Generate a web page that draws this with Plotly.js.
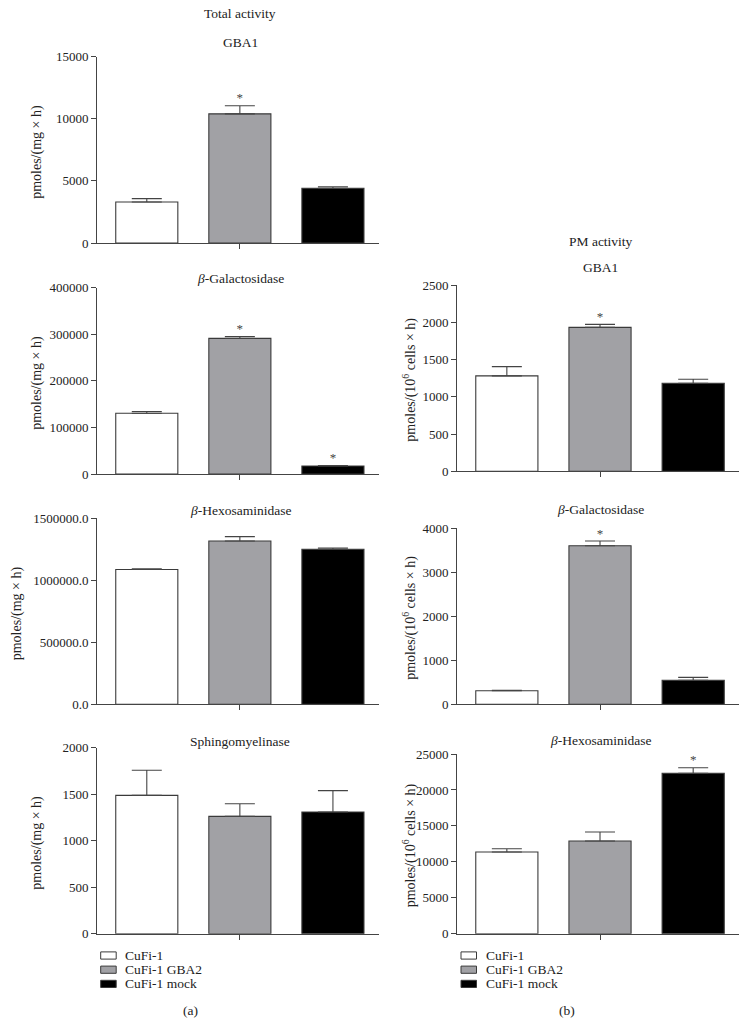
<!DOCTYPE html>
<html>
<head>
<meta charset="utf-8">
<script src="https://cdn.plot.ly/plotly-3.0.1.min.js"></script>
<style>html,body{margin:0;padding:0;background:#fff;}#chart{width:748px;height:1036px;}</style>
</head>
<body>
<div id="chart"></div>
<script>
// ---- data ----
var categories = ['CuFi-1', 'CuFi-1 GBA2', 'CuFi-1 mock'];

// (a) Total activity, pmoles/(mg x h)
var totGBA1 = [3300, 10400, 4400];
var totGBA1Err = [270, 650, 130];
var totGBA1Sig = [false, true, false];

var totGal = [130300, 291300, 17200];
var totGalErr = [4000, 4000, 1200];
var totGalSig = [false, true, true];

var totHex = [1087000, 1317000, 1250000];
var totHexErr = [5000, 35000, 10000];
var totHexSig = [false, false, false];

var totSph = [1487, 1262, 1308];
var totSphErr = [270, 136, 230];
var totSphSig = [false, false, false];

// (b) PM activity, pmoles/(10^6 cells x h)
var pmGBA1 = [1280, 1932, 1181];
var pmGBA1Err = [125, 40, 54];
var pmGBA1Sig = [false, true, false];

var pmGal = [309, 3605, 545];
var pmGalErr = [10, 105, 68];
var pmGalSig = [false, true, false];

var pmHex = [11360, 12890, 22300];
var pmHexErr = [460, 1250, 790];
var pmHexSig = [false, false, true];

var panelTitles = ['GBA1', '<i>β</i>-Galactosidase', '<i>β</i>-Hexosaminidase', 'Sphingomyelinase',
                   'GBA1', '<i>β</i>-Galactosidase', '<i>β</i>-Hexosaminidase'];
var unitA = 'pmoles/(mg × h)';
var unitB = 'pmoles/(10<sup>6</sup> cells × h)';

// ---- layout helpers (pixel -> paper) ----
var W = 748, H = 1036;
function px(x) { return x / W; }
function py(y) { return 1 - y / H; }

var FONT = 'Liberation Serif, Times New Roman, serif';
var colors = ['#ffffff', '#a1a1a5', '#000000'];
var edge = '#3a3a3a';

var panels = [
  {vals: totGBA1, err: totGBA1Err, sig: totGBA1Sig, col: 'L', top: 56.7, bot: 243, ymax: 15000, dtick: 5000, fmt: 'd', unit: unitA, title: panelTitles[0], tY: 43, uX: 37},
  {vals: totGal, err: totGalErr, sig: totGalSig, col: 'L', top: 287.7, bot: 474, ymax: 400000, dtick: 100000, fmt: 'd', unit: unitA, title: panelTitles[1], tY: 279, uX: 37},
  {vals: totHex, err: totHexErr, sig: totHexSig, col: 'L', top: 518.3, bot: 704.3, ymax: 1500000, dtick: 500000, fmt: '.1f', unit: unitA, title: panelTitles[2], tY: 511, uX: 17},
  {vals: totSph, err: totSphErr, sig: totSphSig, col: 'L', top: 747.7, bot: 933.7, ymax: 2000, dtick: 500, fmt: 'd', unit: unitA, title: panelTitles[3], tY: 741.5, uX: 37},
  {vals: pmGBA1, err: pmGBA1Err, sig: pmGBA1Sig, col: 'R', top: 285, bot: 471.3, ymax: 2500, dtick: 500, fmt: 'd', unit: unitB, title: panelTitles[4], tY: 267.5, uX: 409.5},
  {vals: pmGal, err: pmGalErr, sig: pmGalSig, col: 'R', top: 528.3, bot: 704.3, ymax: 4000, dtick: 1000, fmt: 'd', unit: unitB, title: panelTitles[5], tY: 509, uX: 409.5},
  {vals: pmHex, err: pmHexErr, sig: pmHexSig, col: 'R', top: 754, bot: 933.7, ymax: 25000, dtick: 5000, fmt: 'd', unit: unitB, title: panelTitles[6], tY: 740.5, uX: 409.5}
];

var traces = [];
var layout = {
  width: W, height: H, autosize: false,
  margin: {l: 0, r: 0, t: 0, b: 0, pad: 0},
  paper_bgcolor: '#fff', plot_bgcolor: 'rgba(0,0,0,0)',
  showlegend: false, barmode: 'overlay',
  font: {family: FONT, size: 13, color: '#222'},
  annotations: [], shapes: []
};

panels.forEach(function (p, k) {
  var n = k === 0 ? '' : String(k + 1);
  var xa = 'x' + n, ya = 'y' + n;
  traces.push({
    type: 'bar', x: categories, y: p.vals, xaxis: xa, yaxis: ya, width: 0.667,
    marker: {color: colors, line: {color: edge, width: 1.1}},
    error_y: {type: 'data', symmetric: false, array: p.err, arrayminus: p.err.map(function () { return 0; }),
              color: '#444', thickness: 1.1, width: 15},
    hoverinfo: 'x+y'
  });
  // significance asterisks, placed on top of the error bars
  var sx = [], sy = [], st = [];
  p.sig.forEach(function (s, i) {
    if (s) { sx.push(categories[i]); sy.push(p.vals[i] + p.err[i]); st.push('*'); }
  });
  if (sx.length) {
    traces.push({
      type: 'scatter', mode: 'text', x: sx, y: sy, text: st, xaxis: xa, yaxis: ya,
      textposition: 'top center', cliponaxis: false,
      textfont: {family: FONT, size: 13, color: '#444'}, hoverinfo: 'skip'
    });
  }
  var xd = p.col === 'L' ? [px(97), px(379)] : [px(457), px(739.3)];
  var cx = p.col === 'L' ? 240 : 600.5;
  layout['xaxis' + n] = {
    domain: xd, anchor: ya, type: 'category', categoryarray: categories,
    range: [-0.535, 2.495], showline: true, linecolor: '#444', linewidth: 1,
    ticks: 'outside', ticklen: 5, tickcolor: '#444', tickvals: ['CuFi-1 GBA2'],
    showticklabels: false, showgrid: false, zeroline: false, fixedrange: true
  };
  layout['yaxis' + n] = {
    domain: [py(p.bot), py(p.top)], anchor: xa, range: [0, p.ymax], dtick: p.dtick, tick0: 0,
    tickformat: p.fmt, showline: true, linecolor: '#444', linewidth: 1,
    ticks: 'outside', ticklen: 5, tickcolor: '#444', showgrid: false, zeroline: false,
    tickfont: {family: FONT, size: 13, color: '#222'},
    fixedrange: true
  };
  // y-axis unit label
  layout.annotations.push({xref: 'paper', yref: 'paper', x: px(p.uX), y: py((p.top + p.bot) / 2 + 2),
    text: p.unit, textangle: -90, showarrow: false, xanchor: 'center', yanchor: 'middle',
    font: {family: FONT, size: 14, color: '#222'}});
  // panel title
  layout.annotations.push({xref: 'paper', yref: 'paper', x: px(cx), y: py(p.tY), text: p.title,
    showarrow: false, xanchor: 'center', yanchor: 'middle', font: {family: FONT, size: 13.5, color: '#222'}});
});

// column headings
layout.annotations.push({xref: 'paper', yref: 'paper', x: px(240), y: py(13), text: 'Total activity',
  showarrow: false, xanchor: 'center', yanchor: 'middle', font: {family: FONT, size: 13.5, color: '#222'}});
layout.annotations.push({xref: 'paper', yref: 'paper', x: px(600.5), y: py(241.5), text: 'PM activity',
  showarrow: false, xanchor: 'center', yanchor: 'middle', font: {family: FONT, size: 13.5, color: '#222'}});
// panel letters
layout.annotations.push({xref: 'paper', yref: 'paper', x: px(190), y: py(1010), text: '(a)',
  showarrow: false, xanchor: 'center', yanchor: 'middle', font: {family: FONT, size: 13.5, color: '#222'}});
layout.annotations.push({xref: 'paper', yref: 'paper', x: px(567), y: py(1010), text: '(b)',
  showarrow: false, xanchor: 'center', yanchor: 'middle', font: {family: FONT, size: 13.5, color: '#222'}});

// legends (one under each column)
[100.7, 461].forEach(function (lx) {
  categories.forEach(function (c, i) {
    var yc = 955.5 + i * 14.2;
    layout.shapes.push({type: 'rect', xref: 'paper', yref: 'paper', x0: px(lx), x1: px(lx + 15.5),
      y0: py(yc + 3.6), y1: py(yc - 3.6), fillcolor: colors[i], line: {color: edge, width: 1}});
    layout.annotations.push({xref: 'paper', yref: 'paper', x: px(lx + 22.5), y: py(yc), text: c,
      showarrow: false, xanchor: 'left', yanchor: 'middle', font: {family: FONT, size: 13.5, color: '#222'}});
  });
});

Plotly.newPlot('chart', traces, layout, {staticPlot: true, displayModeBar: false});
</script>
</body>
</html>
